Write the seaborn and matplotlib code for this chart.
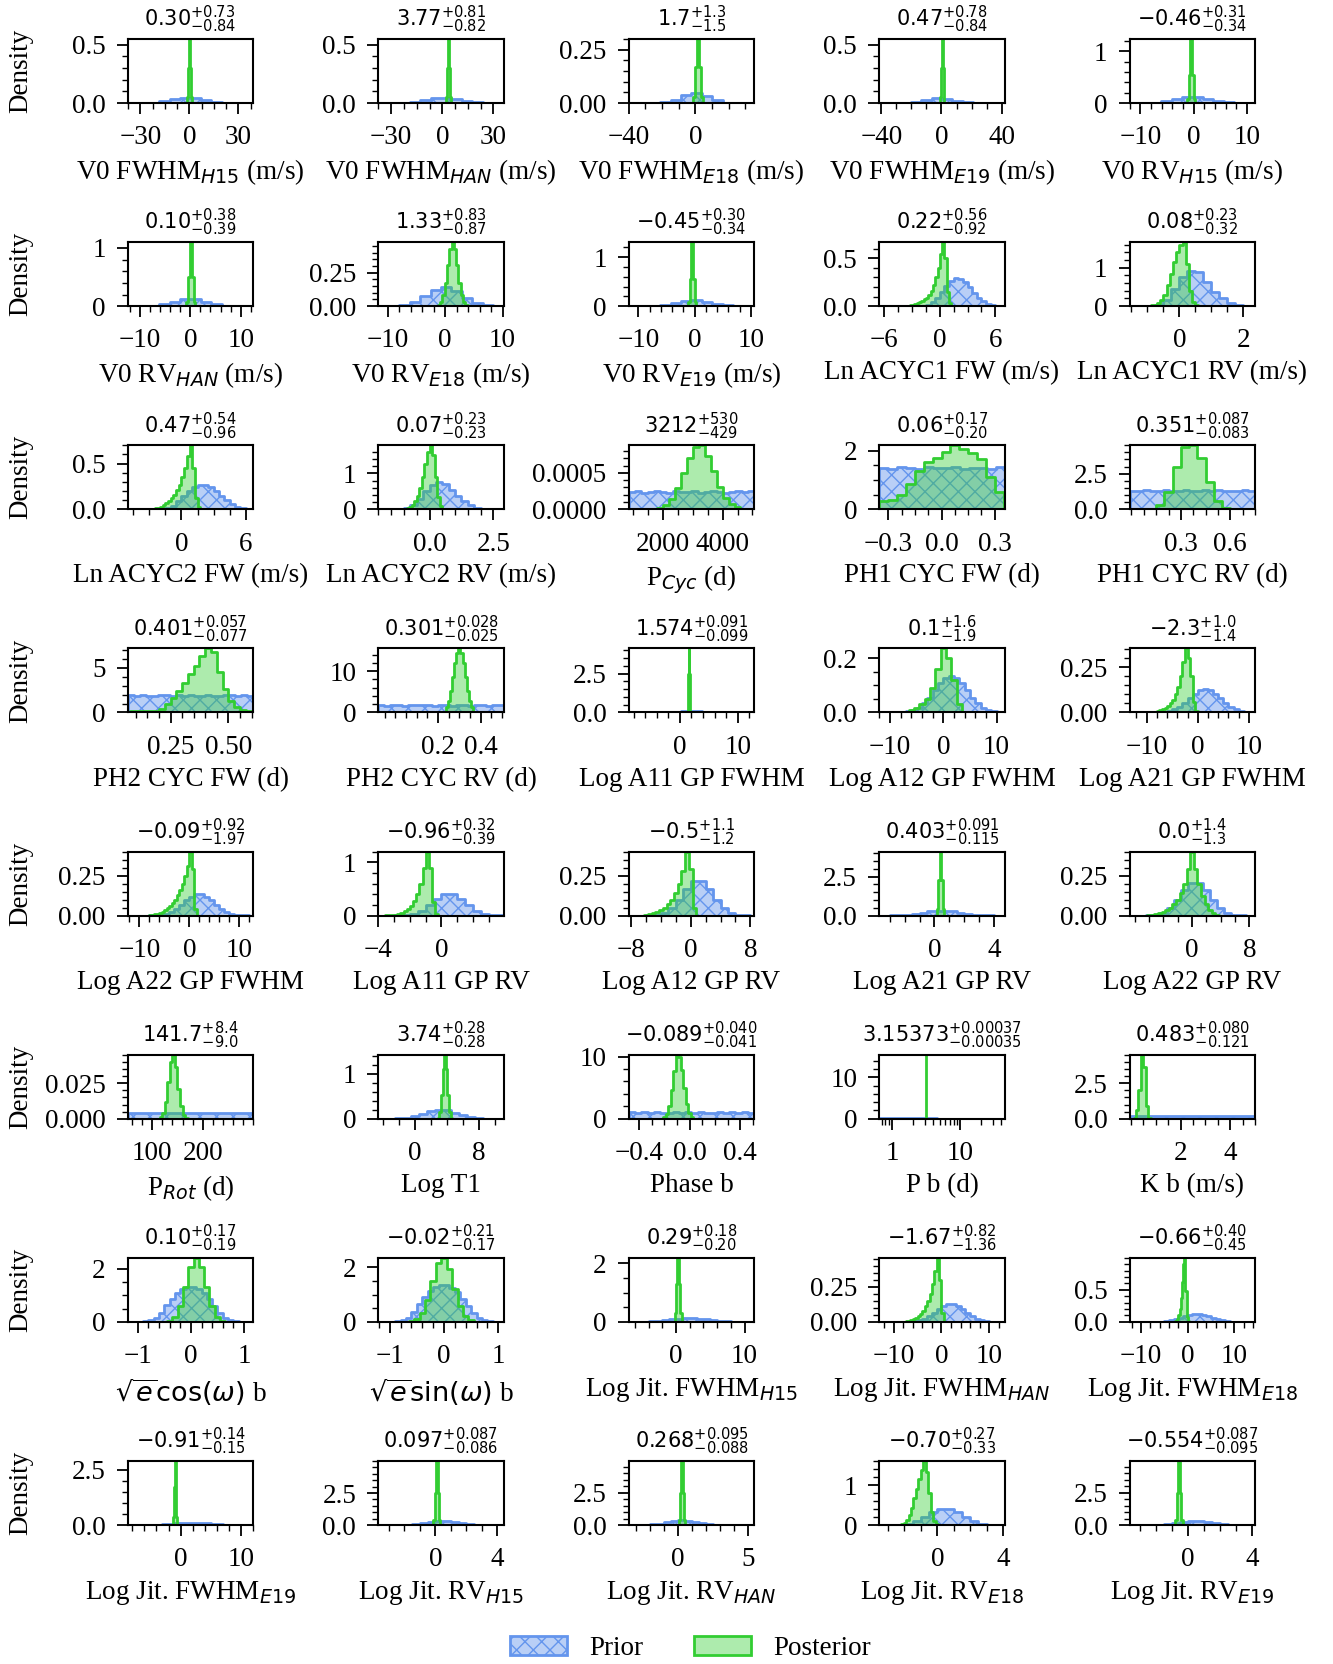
import numpy as np
import pandas as pd
import seaborn as sns
import matplotlib.pyplot as plt
from matplotlib.patches import Patch
from matplotlib.colors import to_rgba
from matplotlib.ticker import AutoMinorLocator, FuncFormatter, NullFormatter

# ---- panel text -----------------------------------------------------------
labels = [r"V0 FWHM$_{H15}$ (m/s)", r"V0 FWHM$_{HAN}$ (m/s)", r"V0 FWHM$_{E18}$ (m/s)",
          r"V0 FWHM$_{E19}$ (m/s)", r"V0 RV$_{H15}$ (m/s)",
          r"V0 RV$_{HAN}$ (m/s)", r"V0 RV$_{E18}$ (m/s)", r"V0 RV$_{E19}$ (m/s)",
          "Ln ACYC1 FW (m/s)", "Ln ACYC1 RV (m/s)",
          "Ln ACYC2 FW (m/s)", "Ln ACYC2 RV (m/s)", r"P$_{Cyc}$ (d)", "PH1 CYC FW (d)", "PH1 CYC RV (d)",
          "PH2 CYC FW (d)", "PH2 CYC RV (d)", "Log A11 GP FWHM", "Log A12 GP FWHM", "Log A21 GP FWHM",
          "Log A22 GP FWHM", "Log A11 GP RV", "Log A12 GP RV", "Log A21 GP RV", "Log A22 GP RV",
          r"P$_{Rot}$ (d)", "Log T1", "Phase b", "P b (d)", "K b (m/s)",
          r"$\sqrt{e}\cos(\omega)$ b", r"$\sqrt{e}\sin(\omega)$ b", r"Log Jit. FWHM$_{H15}$",
          r"Log Jit. FWHM$_{HAN}$", r"Log Jit. FWHM$_{E18}$",
          r"Log Jit. FWHM$_{E19}$", r"Log Jit. RV$_{H15}$", r"Log Jit. RV$_{HAN}$",
          r"Log Jit. RV$_{E18}$", r"Log Jit. RV$_{E19}$"]

medians = ["0.30", "3.77", "1.7", "0.47", "-0.46",
           "0.10", "1.33", "-0.45", "0.22", "0.08",
           "0.47", "0.07", "3212", "0.06", "0.351",
           "0.401", "0.301", "1.574", "0.1", "-2.3",
           "-0.09", "-0.96", "-0.5", "0.403", "0.0",
           "141.7", "3.74", "-0.089", "3.15373", "0.483",
           "0.10", "-0.02", "0.29", "-1.67", "-0.66",
           "-0.91", "0.097", "0.268", "-0.70", "-0.554"]
err_up = ["0.73", "0.81", "1.3", "0.78", "0.31",
          "0.38", "0.83", "0.30", "0.56", "0.23",
          "0.54", "0.23", "530", "0.17", "0.087",
          "0.057", "0.028", "0.091", "1.6", "1.0",
          "0.92", "0.32", "1.1", "0.091", "1.4",
          "8.4", "0.28", "0.040", "0.00037", "0.080",
          "0.17", "0.21", "0.18", "0.82", "0.40",
          "0.14", "0.087", "0.095", "0.27", "0.087"]
err_lo = ["0.84", "0.82", "1.5", "0.84", "0.34",
          "0.39", "0.87", "0.34", "0.92", "0.32",
          "0.96", "0.23", "429", "0.20", "0.083",
          "0.077", "0.025", "0.099", "1.9", "1.4",
          "1.97", "0.39", "1.2", "0.115", "1.3",
          "9.0", "0.28", "0.041", "0.00035", "0.121",
          "0.19", "0.17", "0.20", "1.36", "0.45",
          "0.15", "0.086", "0.088", "0.33", "0.095"]

# ---- axes ranges and ticks --------------------------------------------------
x_ranges = [(-37.6, 39.1), (-37.5, 36), (-40, 35.4), (-41.4, 42), (-12, 11.5),
            (-12.4, 12.5), (-11.6, 10.2), (-11.7, 10.6), (-6.55, 7.0), (-1.55, 2.37),
            (-5.0, 6.7), (-2.0, 2.9), (857, 5057), (-0.35, 0.355), (-0.01, 0.75),
            (0.066, 0.607), (-0.08, 0.508), (-8.8, 12.8), (-12, 11.5), (-13.3, 11.2),
            (-12.3, 12.8), (-4.0, 3.95), (-8.3, 8.5), (-3.7, 4.7), (-8.7, 8.8),
            (52, 300), (-4.6, 11.1), (-0.48, 0.51), (0.65, 45), (-0.05, 5.0),
            (-1.18, 1.17), (-1.21, 1.1), (-6.9, 11.4), (-13, 13.2), (-12.4, 14.4),
            (-8.7, 12), (-3.67, 4.4), (-3.5, 5.4), (-3.53, 4.1), (-3.63, 4.2)]
x_ticks = [[-30, 0, 30], [-30, 0, 30], [-40, 0], [-40, 0, 40], [-10, 0, 10],
           [-10, 0, 10], [-10, 0, 10], [-10, 0, 10], [-6, 0, 6], [0, 2],
           [0, 6], [0, 2.5], [2000, 4000], [-0.3, 0, 0.3], [0.3, 0.6],
           [0.25, 0.5], [0.2, 0.4], [0, 10], [-10, 0, 10], [-10, 0, 10],
           [-10, 0, 10], [-4, 0], [-8, 0, 8], [0, 4], [0, 8],
           [100, 200], [0, 8], [-0.4, 0, 0.4], None, [2, 4],
           [-1, 0, 1], [-1, 0, 1], [0, 10], [-10, 0, 10], [-10, 0, 10],
           [0, 10], [0, 4], [0, 5], [0, 4], [0, 4]]
y_ticks = [[0, 0.5], [0, 0.5], [0, 0.25], [0, 0.5], [0, 1],
           [0, 1], [0, 0.25], [0, 1], [0, 0.5], [0, 1],
           [0, 0.5], [0, 1], [0, 0.0005], [0, 2], [0, 2.5],
           [0, 5], [0, 10], [0, 2.5], [0, 0.2], [0, 0.25],
           [0, 0.25], [0, 1], [0, 0.25], [0, 2.5], [0, 0.25],
           [0, 0.025], [0, 1], [0, 10], [0, 10], [0, 2.5],
           [0, 2], [0, 2], [0, 2], [0, 0.25], [0, 0.5],
           [0, 2.5], [0, 2.5], [0, 2.5], [0, 1], [0, 2.5]]
y_tops = [0.55, 0.55, 0.30, 0.55, 1.24,
          1.1, 0.48, 1.31, 0.67, 1.67,
          0.70, 1.78, 0.00088, 2.18, 4.5,
          7.2, 15.5, 4.13, 0.237, 0.353,
          0.40, 1.2, 0.40, 4.1, 0.40,
          0.045, 1.43, 10.3, 15.5, 4.5,
          2.42, 2.35, 2.19, 0.455, 1.0,
          2.9, 5.0, 4.95, 1.6, 4.95]

# ---- histogram ranges (lo, hi) ---------------------------------------------
prior_ranges = [(-37.6, 39.1), (-37.5, 36), (-40, 35.4), (-41.4, 42), (-12, 11.5),
                (-12.4, 12.5), (-11.6, 10.2), (-11.7, 10.6), (-1.5, 6.0), (-0.75, 2.25),
                (-1.5, 6.5), (-1.25, 2.5), (857, 5057), (-0.35, 0.355), (-0.01, 0.75),
                (0.066, 0.607), (-0.08, 0.508), (-8.8, 12.8), (-9, 11), (-9, 11),
                (-9, 12), (-4, 4), (-8, 8), (-3.5, 4.5), (-8.5, 8.5),
                (52, 300), (-4.5, 10.5), (-0.48, 0.51), (0.65, 44.65), (0, 5),
                (-1, 1), (-1, 1), (-7, 11), (-8, 12), (-8, 12),
                (-7, 11), (-3.5, 4.5), (-3.5, 4.5), (-3, 4), (-3.5, 4.5)]
post_ranges = [(-1.2, 1.8), (2.27, 5.27), (-1.3, 4.7), (-1.03, 1.97), (-1.21, 0.29),
               (-0.8, 1.0), (-1.27, 3.93), (-1.2, 0.3), (-3.5, 1.5), (-1.0, 0.6),
               (-3.0, 2.0), (-1.0, 0.6), (1800, 5000), (-0.35, 0.35), (0.1, 0.65),
               (0.075, 0.6), (0.235, 0.365), (1.334, 1.814), (-7.5, 3.5), (-9, 0.5),
               (-8, 1.5), (-3.6, -0.2), (-6.25, 0.75), (0.153, 0.653), (-6.25, 3.75),
               (115, 170), (2.84, 4.64), (-0.21, 0.03), (3.1530, 3.1545), (0.1, 0.8),
               (-0.55, 0.75), (-0.65, 0.65), (-0.21, 0.79), (-7.5, 0.5), (-2.75, 0.25),
               (-1.285, -0.535), (-0.128, 0.322), (0.043, 0.493), (-2.35, 0.05), (-0.779, -0.329)]

# ---- bin heights (density), row 1 ------------------------------------------
pri_v0_fwhm_h15 = [0.0001, 0.0009, 0.0044, 0.014, 0.031, 0.044, 0.041, 0.026, 0.011, 0.003, 0.0006, 0.0001]
pos_v0_fwhm_h15 = [0.05, 0.3, 0.55, 0.3, 0.05]
pri_v0_fwhm_han = [0.0001, 0.0008, 0.0038, 0.0125, 0.028, 0.042, 0.044, 0.032, 0.016, 0.0053, 0.0012, 0.0002]
pos_v0_fwhm_han = [0.05, 0.3, 0.55, 0.3, 0.05]
pri_v0_fwhm_e18 = [0.0, 0.0, 0.0005, 0.0038, 0.016, 0.038, 0.048, 0.033, 0.012, 0.0023, 0.0002, 0.0]
pos_v0_fwhm_e18 = [0.03, 0.17, 0.30, 0.17, 0.03]
pri_v0_fwhm_e19 = [0.0, 0.0001, 0.0012, 0.007, 0.022, 0.039, 0.038, 0.021, 0.006, 0.001, 0.0001, 0.0]
pos_v0_fwhm_e19 = [0.05, 0.3, 0.55, 0.3, 0.05]
pri_v0_rv_h15 = [0.0003, 0.0014, 0.008, 0.03, 0.074, 0.12, 0.126, 0.087, 0.039, 0.0115, 0.0022, 0.0003]
pos_v0_rv_h15 = [0.08, 0.55, 1.24, 0.55, 0.08]
# row 2
pri_v0_rv_han = [0.0001, 0.001, 0.0075, 0.031, 0.08, 0.128, 0.126, 0.078, 0.029, 0.0069, 0.001, 0.0001]
pos_v0_rv_han = [0.08, 0.5, 1.1, 0.5, 0.08]
pri_v0_rv_e18 = [0.0002, 0.0018, 0.0088, 0.03, 0.073, 0.121, 0.14, 0.111, 0.062, 0.0237, 0.0063, 0.0012]
pos_v0_rv_e18 = [0.0089, 0.03, 0.082, 0.177, 0.31, 0.43, 0.48, 0.43, 0.31, 0.177, 0.082, 0.03, 0.0089]
pri_v0_rv_e19 = [0.0002, 0.0015, 0.008, 0.028, 0.067, 0.111, 0.124, 0.094, 0.049, 0.0175, 0.0042, 0.0007]
pos_v0_rv_e19 = [0.08, 0.55, 1.31, 0.55, 0.08]
pri_ln_acyc1_fw = [0.01, 0.04, 0.09, 0.15, 0.21, 0.26, 0.29, 0.28, 0.25, 0.20, 0.14, 0.09, 0.05, 0.02, 0.01]
pos_ln_acyc1_fw = [0.005, 0.01, 0.015, 0.02, 0.03, 0.04, 0.05, 0.07, 0.09, 0.12,
                   0.16, 0.22, 0.30, 0.40, 0.55, 0.67, 0.50, 0.15, 0.03, 0.005]
pri_ln_acyc1_rv = [0.02, 0.15, 0.45, 0.75, 0.92, 0.88, 0.62, 0.38, 0.2, 0.09, 0.03, 0.01]
pos_ln_acyc1_rv = [0.01, 0.02, 0.04, 0.08, 0.15, 0.3, 0.55, 0.85, 1.15, 1.4, 1.6, 1.67, 1.1, 0.4, 0.1, 0.02]
# row 3
pri_ln_acyc2_fw = [0.01, 0.04, 0.09, 0.15, 0.2, 0.24, 0.27, 0.27, 0.24, 0.2, 0.15, 0.1, 0.06, 0.03, 0.012, 0.004]
pos_ln_acyc2_fw = [0.003, 0.006, 0.01, 0.018, 0.03, 0.045, 0.065, 0.09, 0.12, 0.16,
                   0.21, 0.27, 0.35, 0.45, 0.58, 0.70, 0.45, 0.12, 0.02, 0.003]
pri_ln_acyc2_rv = [0.01, 0.04, 0.12, 0.28, 0.5, 0.68, 0.75, 0.7, 0.55, 0.38, 0.23, 0.12, 0.05, 0.02, 0.005]
pos_ln_acyc2_rv = [0.01, 0.03, 0.06, 0.12, 0.22, 0.38, 0.6, 0.9, 1.25, 1.6, 1.78, 1.5, 0.9, 0.35, 0.08, 0.01]
pri_p_cyc = [0.00024, 0.00025, 0.00023, 0.00024, 0.00025, 0.00024, 0.00023, 0.00025, 0.00024, 0.00024,
             0.00025, 0.00023, 0.00024, 0.00025, 0.00024, 0.00023, 0.00024, 0.00025, 0.00024, 0.00025]
pos_p_cyc = [0.00002, 0.00006, 0.000145, 0.00029, 0.0005, 0.00071, 0.00086, 0.00088,
             0.00073, 0.00052, 0.00031, 0.00016, 0.00007, 0.00003, 0.00001, 0.000005]
pri_ph1_cyc_fw = [1.42, 1.38, 1.45, 1.4, 1.37, 1.43, 1.41, 1.39, 1.44, 1.38, 1.42, 1.4, 1.36, 1.43]
pos_ph1_cyc_fw = [0.27, 0.33, 0.5, 0.85, 1.3, 1.6, 1.75, 1.95, 2.18, 2.05, 1.9, 1.7, 1.1, 0.6]
pri_ph1_cyc_rv = [1.32, 1.28, 1.35, 1.3, 1.27, 1.33, 1.31, 1.29, 1.34, 1.3,
                  1.28, 1.33, 1.3, 1.35, 1.29, 1.31, 1.27, 1.33, 1.3]
pos_ph1_cyc_rv = [0.05, 0.3, 1.2, 3.0, 4.4, 4.5, 3.6, 1.9, 0.6, 0.1, 0.02]
# row 4
pri_ph2_cyc_fw = [1.92, 1.88, 1.95, 1.9, 1.86, 1.93, 1.91, 1.89, 1.94, 1.87, 1.92,
                  1.9, 1.85, 1.93, 1.9, 1.88, 1.95, 1.91, 1.87, 1.93, 1.9]
pos_ph2_cyc_fw = [0.15, 0.15, 0.15, 0.15, 0.2, 0.35, 0.9, 1.6, 2.4, 3.3, 4.3,
                  5.2, 6.3, 7.2, 6.8, 4.6, 2.6, 1.3, 0.6, 0.3, 0.2]
pri_ph2_cyc_rv = [1.72, 1.68, 1.75, 1.7, 1.66, 1.73, 1.71, 1.69, 1.74, 1.67, 1.72,
                  1.7, 1.65, 1.73, 1.7, 1.68, 1.75, 1.71, 1.67, 1.73, 1.7]
pos_ph2_cyc_rv = [1.34, 2.85, 5.3, 8.5, 12.0, 14.5, 15.5, 14.5, 12.0, 8.5, 5.3, 2.85, 1.34]
pri_log_a11_fw = [0.0044, 0.0116, 0.0245, 0.042, 0.06, 0.07, 0.066, 0.051, 0.032, 0.0165, 0.007, 0.0024]
pos_log_a11_fw = [0.5, 2.5, 4.13, 2.5, 0.5]
pri_log_a12_fw = [0.0005, 0.0015, 0.004, 0.009, 0.018, 0.034, 0.055, 0.082, 0.108, 0.128,
                  0.135, 0.128, 0.108, 0.082, 0.055, 0.034, 0.018, 0.009, 0.004, 0.0015]
pos_log_a12_fw = [0.003, 0.008, 0.015, 0.03, 0.05, 0.09, 0.16, 0.237, 0.2, 0.12, 0.03]
pri_log_a21_fw = [0.0005, 0.0014, 0.0038, 0.0085, 0.017, 0.032, 0.052, 0.078, 0.102, 0.121,
                  0.128, 0.121, 0.102, 0.078, 0.052, 0.032, 0.017, 0.0085, 0.0038, 0.0014]
pos_log_a21_fw = [0.003, 0.005, 0.008, 0.012, 0.018, 0.025, 0.035, 0.05, 0.07, 0.1,
                  0.14, 0.2, 0.28, 0.353, 0.3, 0.2, 0.06, 0.01, 0.002]
# row 5
pri_log_a22_fw = [0.0003, 0.0009, 0.0025, 0.0059, 0.0128, 0.025, 0.044, 0.068, 0.095, 0.118, 0.132,
                  0.132, 0.118, 0.095, 0.068, 0.044, 0.025, 0.0128, 0.0059, 0.0025, 0.0009]
pos_log_a22_fw = [0.003, 0.005, 0.008, 0.012, 0.017, 0.024, 0.033, 0.045, 0.06, 0.08,
                  0.1, 0.13, 0.16, 0.2, 0.25, 0.31, 0.40, 0.29, 0.04]
pri_log_a11_rv = [0.0001, 0.0005, 0.0025, 0.01, 0.034, 0.092, 0.19, 0.32,
                  0.41, 0.41, 0.32, 0.19, 0.092, 0.034, 0.01, 0.0025]
pos_log_a11_rv = [0.003, 0.006, 0.01, 0.02, 0.03, 0.05, 0.08, 0.12, 0.18,
                  0.27, 0.4, 0.6, 0.9, 1.2, 0.9, 0.25, 0.03]
pri_log_a12_rv = [0.0, 0.0002, 0.0011, 0.005, 0.018, 0.047, 0.1, 0.165,
                  0.213, 0.213, 0.165, 0.1, 0.047, 0.018, 0.005, 0.0011]
pos_log_a12_rv = [0.004, 0.008, 0.014, 0.022, 0.035, 0.05, 0.07, 0.1, 0.14, 0.2, 0.28, 0.40, 0.29, 0.05]
pri_log_a21_rv = [0.0025, 0.008, 0.024, 0.057, 0.114, 0.19, 0.27, 0.32,
                  0.32, 0.27, 0.19, 0.114, 0.057, 0.024, 0.008, 0.0025]
pos_log_a21_rv = [0.4, 2.3, 4.1, 2.3, 0.4]
pri_log_a22_rv = [0.0, 0.0002, 0.0011, 0.005, 0.017, 0.045, 0.097, 0.158, 0.204,
                  0.204, 0.158, 0.097, 0.045, 0.017, 0.005, 0.0011, 0.0002]
pos_log_a22_rv = [0.003, 0.006, 0.01, 0.016, 0.024, 0.035, 0.05, 0.07, 0.1, 0.14,
                  0.2, 0.29, 0.40, 0.29, 0.2, 0.12, 0.07, 0.035, 0.015, 0.005]
# row 6
pri_p_rot = [0.0039, 0.0041, 0.0038, 0.004, 0.0042, 0.0039, 0.0038, 0.0041, 0.004, 0.0039,
             0.0042, 0.0038, 0.004, 0.0041, 0.0039, 0.0038, 0.004, 0.0042, 0.0039, 0.0041]
pos_p_rot = [0.001, 0.004, 0.012, 0.026, 0.04, 0.045, 0.036, 0.021, 0.009, 0.0026, 0.0006]
pri_log_t1 = [0.0003, 0.0016, 0.0068, 0.022, 0.055, 0.11, 0.167, 0.2, 0.185, 0.133,
              0.075, 0.033, 0.011, 0.003, 0.0006]
pos_log_t1 = [0.025, 0.147, 0.53, 1.12, 1.43, 1.12, 0.53, 0.147, 0.025]
pri_phase_b = [1.02, 0.98, 1.01, 0.97, 1.03, 0.99, 1.0, 1.02, 0.98, 1.01,
               0.99, 1.03, 0.97, 1.0, 1.02, 0.98, 1.01, 0.99, 1.03, 1.0]
pos_phase_b = [0.22, 0.77, 2.1, 4.6, 7.6, 10.3, 10.0, 7.9, 4.9, 2.3, 0.86, 0.25]
pri_p_b = [0.166, 0.066, 0.042, 0.031, 0.025, 0.02, 0.017, 0.015, 0.013, 0.012, 0.011,
           0.01, 0.009, 0.0085, 0.008, 0.0075, 0.007, 0.0066, 0.0063, 0.006, 0.0057, 0.0054]
pos_p_b = [700.0]
pri_k_b = [0.2, 0.21, 0.19, 0.2, 0.2, 0.21, 0.19, 0.2, 0.21, 0.2,
           0.19, 0.2, 0.21, 0.2, 0.19, 0.2, 0.21, 0.2, 0.19, 0.2]
pos_k_b = [0.05, 0.6, 2.0, 4.5, 3.6, 0.9, 0.05]
# row 7
pri_secosw_b = [0.005, 0.02, 0.06, 0.15, 0.35, 0.62, 0.88, 1.1, 1.25, 1.3,
                1.3, 1.25, 1.08, 0.85, 0.6, 0.35, 0.15, 0.06, 0.02, 0.005]
pos_secosw_b = [0.01, 0.05, 0.2, 0.6, 1.3, 2.08, 2.42, 2.08, 1.3, 0.6, 0.2, 0.05, 0.01]
pri_sesinw_b = [0.005, 0.02, 0.06, 0.16, 0.36, 0.64, 0.9, 1.12, 1.28, 1.36,
                1.34, 1.26, 1.08, 0.84, 0.58, 0.34, 0.15, 0.06, 0.02, 0.005]
pos_sesinw_b = [0.02, 0.1, 0.32, 0.8, 1.5, 2.15, 2.35, 1.93, 1.2, 0.57, 0.2, 0.056, 0.012]
pri_jit_fw_h15 = [0.002, 0.005, 0.011, 0.022, 0.039, 0.061, 0.085, 0.106, 0.118,
                  0.118, 0.106, 0.085, 0.061, 0.039, 0.022, 0.011, 0.005, 0.002]
pos_jit_fw_h15 = [0.3, 1.3, 2.19, 1.3, 0.3]
pri_jit_fw_han = [0.001, 0.0024, 0.0057, 0.0124, 0.024, 0.042, 0.066, 0.092, 0.115, 0.128,
                  0.128, 0.115, 0.092, 0.066, 0.042, 0.024, 0.0124, 0.0057, 0.0024, 0.001]
pos_jit_fw_han = [0.004, 0.008, 0.013, 0.02, 0.03, 0.042, 0.058, 0.08,
                  0.11, 0.15, 0.2, 0.27, 0.36, 0.455, 0.3, 0.06]
pri_jit_fw_e18 = [0.001, 0.0022, 0.0053, 0.0115, 0.022, 0.039, 0.061, 0.085, 0.106, 0.118,
                  0.118, 0.106, 0.085, 0.061, 0.039, 0.022, 0.0115, 0.0053, 0.0022, 0.001]
pos_jit_fw_e18 = [0.01, 0.02, 0.05, 0.1, 0.2, 0.37, 0.62, 0.9, 1.0, 0.48, 0.08, 0.01]
# row 8
pri_jit_fw_e19 = [0.0017, 0.0042, 0.0092, 0.018, 0.033, 0.051, 0.071, 0.088, 0.098,
                  0.098, 0.088, 0.071, 0.051, 0.033, 0.018, 0.0092, 0.0042, 0.0017]
pos_jit_fw_e19 = [0.35, 1.7, 2.9, 1.7, 0.35]
pri_jit_rv_h15 = [0.0003, 0.0018, 0.0082, 0.029, 0.078, 0.165, 0.272, 0.349,
                  0.349, 0.272, 0.165, 0.078, 0.029, 0.0082, 0.0018, 0.0003]
pos_jit_rv_h15 = [0.4, 2.5, 5.0, 2.5, 0.4]
pri_jit_rv_han = [0.0007, 0.0035, 0.0143, 0.045, 0.111, 0.213, 0.318, 0.37,
                  0.334, 0.236, 0.129, 0.055, 0.018, 0.0048, 0.001, 0.0002]
pos_jit_rv_han = [0.4, 2.5, 4.95, 2.5, 0.4]
pri_jit_rv_e18 = [0.002, 0.0096, 0.034, 0.091, 0.192, 0.317, 0.407,
                  0.407, 0.317, 0.192, 0.091, 0.034, 0.0096, 0.002]
pos_jit_rv_e18 = [0.01, 0.03, 0.06, 0.12, 0.24, 0.43, 0.67, 0.9, 1.14, 1.38, 1.6, 1.33, 0.8, 0.33, 0.1, 0.02]
pri_jit_rv_e19 = [0.0003, 0.0017, 0.0075, 0.027, 0.072, 0.152, 0.25, 0.32,
                  0.32, 0.25, 0.152, 0.072, 0.027, 0.0075, 0.0017, 0.0003]
pos_jit_rv_e19 = [0.4, 2.5, 4.95, 2.5, 0.4]

prior_heights = [pri_v0_fwhm_h15, pri_v0_fwhm_han, pri_v0_fwhm_e18, pri_v0_fwhm_e19, pri_v0_rv_h15,
                 pri_v0_rv_han, pri_v0_rv_e18, pri_v0_rv_e19, pri_ln_acyc1_fw, pri_ln_acyc1_rv,
                 pri_ln_acyc2_fw, pri_ln_acyc2_rv, pri_p_cyc, pri_ph1_cyc_fw, pri_ph1_cyc_rv,
                 pri_ph2_cyc_fw, pri_ph2_cyc_rv, pri_log_a11_fw, pri_log_a12_fw, pri_log_a21_fw,
                 pri_log_a22_fw, pri_log_a11_rv, pri_log_a12_rv, pri_log_a21_rv, pri_log_a22_rv,
                 pri_p_rot, pri_log_t1, pri_phase_b, pri_p_b, pri_k_b,
                 pri_secosw_b, pri_sesinw_b, pri_jit_fw_h15, pri_jit_fw_han, pri_jit_fw_e18,
                 pri_jit_fw_e19, pri_jit_rv_h15, pri_jit_rv_han, pri_jit_rv_e18, pri_jit_rv_e19]
post_heights = [pos_v0_fwhm_h15, pos_v0_fwhm_han, pos_v0_fwhm_e18, pos_v0_fwhm_e19, pos_v0_rv_h15,
                pos_v0_rv_han, pos_v0_rv_e18, pos_v0_rv_e19, pos_ln_acyc1_fw, pos_ln_acyc1_rv,
                pos_ln_acyc2_fw, pos_ln_acyc2_rv, pos_p_cyc, pos_ph1_cyc_fw, pos_ph1_cyc_rv,
                pos_ph2_cyc_fw, pos_ph2_cyc_rv, pos_log_a11_fw, pos_log_a12_fw, pos_log_a21_fw,
                pos_log_a22_fw, pos_log_a11_rv, pos_log_a12_rv, pos_log_a21_rv, pos_log_a22_rv,
                pos_p_rot, pos_log_t1, pos_phase_b, pos_p_b, pos_k_b,
                pos_secosw_b, pos_sesinw_b, pos_jit_fw_h15, pos_jit_fw_han, pos_jit_fw_e18,
                pos_jit_fw_e19, pos_jit_rv_h15, pos_jit_rv_han, pos_jit_rv_e18, pos_jit_rv_e19]
log_x_panel = 28  # "P b (d)" uses a log x axis

# ---- style ----------------------------------------------------------------
sns.set_style("ticks")
plt.rcParams["font.family"] = ["Liberation Serif", "DejaVu Serif"]
plt.rcParams["mathtext.fontset"] = "dejavusans"
plt.rcParams["axes.formatter.use_mathtext"] = False
plt.rcParams["font.size"] = 19.5
for key in ["text.color", "axes.labelcolor", "xtick.color", "ytick.color", "axes.edgecolor"]:
    plt.rcParams[key] = "black"
plt.rcParams["axes.linewidth"] = 1.5
plt.rcParams["hatch.color"] = "cornflowerblue"
plt.rcParams["hatch.linewidth"] = 1.0

prior_style = dict(color="cornflowerblue", alpha=0.45, linewidth=2, hatch="xx")
post_style = dict(color="limegreen", alpha=0.4, linewidth=2)

fig, axes = plt.subplots(8, 5, figsize=(13.33, 16.64), dpi=100)
fig.subplots_adjust(left=0.096, right=0.9415, top=0.9766, bottom=0.0835, wspace=1.0, hspace=2.17)

for i, ax in enumerate(axes.flat):
    for vals, (lo, hi), style in [(prior_heights[i], prior_ranges[i], prior_style),
                                  (post_heights[i], post_ranges[i], post_style)]:
        edges = np.linspace(lo, hi, len(vals) + 1)
        mids = (edges[:-1] + edges[1:]) / 2
        df = pd.DataFrame({"x": mids, "w": vals})
        sns.histplot(data=df, x="x", weights="w", bins=edges.tolist(), element="step",
                     fill=True, ax=ax, **style)

    if i == log_x_panel:
        ax.set_xscale("log")
        ax.xaxis.set_major_formatter(FuncFormatter(lambda v, pos: f"{v:g}"))
        ax.xaxis.set_minor_formatter(NullFormatter())
    else:
        ax.set_xticks(x_ticks[i])
        ax.xaxis.set_minor_locator(AutoMinorLocator())
    ax.set_xlim(x_ranges[i])
    ax.set_yticks(y_ticks[i])
    ax.yaxis.set_minor_locator(AutoMinorLocator())
    ax.set_ylim(0, y_tops[i])

    ax.tick_params(which="major", length=8, width=1.3, pad=8,
                   labelfontfamily="Liberation Serif")
    ax.tick_params(which="minor", length=4.3, width=1.0)

    ax.set_title(f"${medians[i]}^{{+{err_up[i]}}}_{{-{err_lo[i]}}}$", fontsize=15, pad=9)
    ax.set_xlabel(labels[i], labelpad=5)
    if i % 5 == 0:
        ax.set_ylabel("Density")
        ax.yaxis.set_label_coords(-0.76, 0.5)
    else:
        ax.set_ylabel("")

handles = [Patch(facecolor=to_rgba("cornflowerblue", 0.45), edgecolor="cornflowerblue",
                 hatch="xx", linewidth=2, label="Prior"),
           Patch(facecolor=to_rgba("limegreen", 0.4), edgecolor="limegreen",
                 linewidth=2, label="Posterior")]
fig.legend(handles=handles, loc="center", bbox_to_anchor=(0.518, 0.0095), ncol=2,
           frameon=False, handlelength=2.1, handleheight=0.75, columnspacing=1.9)

fig.savefig("out.png", dpi=100)
